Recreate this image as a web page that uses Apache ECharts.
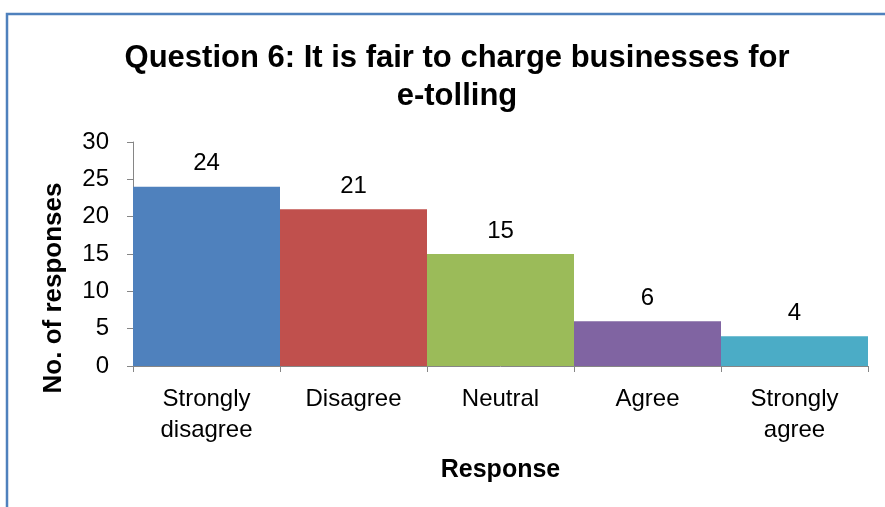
<!DOCTYPE html>
<html>
<head>
<meta charset="utf-8">
<script src="https://cdn.jsdelivr.net/npm/echarts@6/dist/echarts.min.js"></script>
<style>
  html, body { margin: 0; padding: 0; background: #fff; }
  #chart { width: 885px; height: 507px; }
</style>
</head>
<body>
<div id="chart"></div>
<script>
// Survey responses for question 6
const categories = ['Strongly\ndisagree', 'Disagree', 'Neutral', 'Agree', 'Strongly\nagree'];
const responses = [24, 21, 15, 6, 4];
const barColors = ['#4F81BD', '#C0504D', '#9BBB59', '#8064A2', '#4BACC6'];
const yTicks = { min: 0, max: 30, interval: 5 };

const font = 'Liberation Sans, Arial, sans-serif';
const axisGrey = '#868686';

const chart = echarts.init(document.getElementById('chart'), null, { renderer: 'canvas' });

chart.setOption({
  backgroundColor: '#ffffff',
  animation: false,
  title: {
    text: 'Question 6: It is fair to charge businesses for\ne-tolling',
    left: 452,
    textAlign: 'center',
    top: 34,
    textStyle: { fontFamily: font, fontSize: 31, fontWeight: 'bold', color: '#000', lineHeight: 38 }
  },
  graphic: [{
    type: 'rect',
    shape: { x: 7, y: 14, width: 1000, height: 600 },
    style: { fill: 'none', stroke: '#4F81BD', lineWidth: 2.5 },
    silent: true
  }],
  grid: { left: 133, right: 17, top: 142, bottom: 141, containLabel: false },
  xAxis: {
    type: 'category',
    data: categories,
    name: 'Response',
    nameLocation: 'middle',
    nameGap: 92,
    nameTextStyle: { fontFamily: font, fontSize: 25, fontWeight: 'bold', color: '#000' },
    axisLine: { lineStyle: { color: axisGrey, width: 1 } },
    axisTick: { show: true, alignWithLabel: false, length: 6, lineStyle: { color: axisGrey } },
    axisLabel: { fontFamily: font, fontSize: 24, color: '#000', lineHeight: 31, margin: 18, interval: 0 }
  },
  yAxis: {
    type: 'value',
    min: yTicks.min,
    max: yTicks.max,
    interval: yTicks.interval,
    name: 'No. of responses',
    nameLocation: 'middle',
    nameGap: 66,
    nameRotate: 90,
    nameTextStyle: { fontFamily: font, fontSize: 26, fontWeight: 'bold', color: '#000', padding: [0, 68, 0, 0] },
    axisLine: { show: true, lineStyle: { color: axisGrey, width: 1 } },
    axisTick: { show: true, length: 6, lineStyle: { color: axisGrey } },
    splitLine: { show: false },
    axisLabel: { fontFamily: font, fontSize: 24, color: '#000', margin: 24 }
  },
  series: [{
    type: 'bar',
    data: responses.map((v, i) => ({ value: v, itemStyle: { color: barColors[i] } })),
    barCategoryGap: 0,
    label: {
      show: true,
      position: 'top',
      distance: 11,
      fontFamily: font,
      fontSize: 24,
      color: '#000'
    }
  }]
});
</script>
</body>
</html>
